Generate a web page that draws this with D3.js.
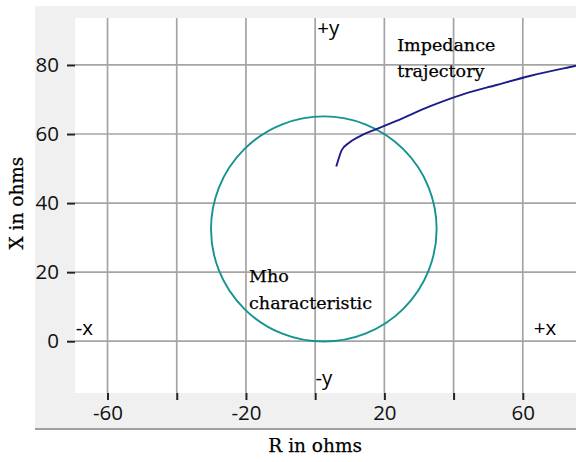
<!DOCTYPE html>
<html>
<head>
<meta charset="utf-8">
<script src="https://cdn.jsdelivr.net/npm/d3@7"></script>
<style>
  body { margin: 0; background: #fff; }
  svg { display: block; }
</style>
</head>
<body>
<svg id="chart" width="576" height="462"></svg>
<script>
// data
var xTicks = [-60, -40, -20, 0, 20, 40, 60];
var xTickLabels = ["-60", "", "-20", "", "20", "", "60"];
var yTicks = [0, 20, 40, 60, 80];
var yTickLabels = ["0", "20", "40", "60", "80"];

// mho circle: centre (R, X) and radius in ohms
var mhoCenter = [2.5, 32.5];
var mhoRadius = 32.6;

// impedance trajectory points, R and X in ohms
var trajR = [6.1, 7.0, 7.6, 10.0, 13.8, 17.7, 23.5, 33.1, 42.7, 52.4, 62.0, 75.0, 82.0];
var trajX = [50.6, 53.5, 55.2, 57.6, 59.8, 61.4, 63.8, 68.0, 71.5, 74.2, 76.8, 79.7, 81.2];

var quadLabels = [
  {t: "+y", r: 0.6, x: 88.6},
  {t: "-y", r: 0.1, x: -12.8},
  {t: "-x", r: -69.2, x: 1.8},
  {t: "+x", r: 63.2, x: 1.8}
];

var svg = d3.select("#chart");
var plot = {left: 75, top: 18, right: 592, bottom: 393};

var xScale = d3.scaleLinear().domain([-69.4, 80]).range([plot.left, plot.right]);
var yScale = d3.scaleLinear().domain([-15, 93.6]).range([plot.bottom, plot.top]);

var sans = "'Open Sans', 'DejaVu Sans', sans-serif";
var serif = "'DejaVu Serif', serif";

// gray panel
svg.append("rect")
  .attr("x", 35).attr("y", 6)
  .attr("width", 576 - 35).attr("height", 429 - 6)
  .attr("fill", "#f0f0f0");
svg.append("line")
  .attr("x1", 35).attr("x2", 576)
  .attr("y1", 429).attr("y2", 429)
  .attr("stroke", "#a0a0a0").attr("stroke-width", 2);

// white plot area
svg.append("rect")
  .attr("x", plot.left).attr("y", plot.top)
  .attr("width", plot.right - plot.left).attr("height", plot.bottom - plot.top)
  .attr("fill", "#fff");

svg.append("clipPath").attr("id", "clip")
  .append("rect")
  .attr("x", plot.left).attr("y", plot.top)
  .attr("width", plot.right - plot.left).attr("height", plot.bottom - plot.top);

var g = svg.append("g").attr("clip-path", "url(#clip)");

// grid
g.selectAll("line.vgrid")
  .data(xTicks).enter().append("line")
  .attr("class", "vgrid")
  .attr("x1", d => xScale(d)).attr("x2", d => xScale(d))
  .attr("y1", plot.top).attr("y2", plot.bottom)
  .attr("stroke", "#a4a4a4").attr("stroke-width", 1.7);

g.selectAll("line.hgrid")
  .data(yTicks).enter().append("line")
  .attr("class", "hgrid")
  .attr("y1", d => yScale(d)).attr("y2", d => yScale(d))
  .attr("x1", plot.left).attr("x2", plot.right)
  .attr("stroke", "#a4a4a4").attr("stroke-width", 1.7);

// axes
var xAxis = d3.axisBottom(xScale)
  .tickValues(xTicks)
  .tickSize(7)
  .tickPadding(5)
  .tickFormat((d, i) => xTickLabels[i]);
var xg = svg.append("g")
  .attr("transform", "translate(0," + plot.bottom + ")")
  .call(xAxis);
xg.select(".domain").remove();

var yAxis = d3.axisLeft(yScale)
  .tickValues(yTicks)
  .tickSize(8)
  .tickPadding(8)
  .tickFormat((d, i) => yTickLabels[i]);
var yg = svg.append("g")
  .attr("transform", "translate(" + plot.left + ",0)")
  .call(yAxis);
yg.select(".domain").remove();

[xg, yg].forEach(function(a) {
  a.selectAll(".tick line").attr("stroke", "#222").attr("stroke-width", 2);
  a.selectAll(".tick text")
    .attr("fill", "#111")
    .style("font-family", sans)
    .style("font-size", "20.5px");
});

// mho circle
g.append("ellipse")
  .attr("cx", xScale(mhoCenter[0]))
  .attr("cy", yScale(mhoCenter[1]))
  .attr("rx", xScale(mhoCenter[0] + mhoRadius) - xScale(mhoCenter[0]))
  .attr("ry", yScale(mhoCenter[1]) - yScale(mhoCenter[1] + mhoRadius))
  .attr("fill", "none")
  .attr("stroke", "#15948f")
  .attr("stroke-width", 1.9);

// impedance trajectory
var traj = trajR.map((r, i) => [r, trajX[i]]);
g.append("path")
  .datum(traj)
  .attr("d", d3.line().x(d => xScale(d[0])).y(d => yScale(d[1])).curve(d3.curveMonotoneX))
  .attr("fill", "none")
  .attr("stroke", "#1c1c8a")
  .attr("stroke-width", 1.9);

// quadrant labels
svg.selectAll("text.quad")
  .data(quadLabels).enter().append("text")
  .attr("class", "quad")
  .attr("x", d => xScale(d.r))
  .attr("y", d => yScale(d.x))
  .style("font-family", sans)
  .style("font-size", "20.5px")
  .attr("fill", "#000")
  .text(d => d.t);

// annotations
function note(lines, r, x) {
  var t = svg.append("text")
    .attr("x", xScale(r))
    .attr("y", yScale(x))
    .style("font-family", serif)
    .style("font-size", "17.5px")
    .attr("fill", "#000")
    .attr("stroke", "#000")
    .attr("stroke-width", 0.25);
  lines.forEach(function(s, i) {
    t.append("tspan")
      .attr("x", xScale(r))
      .attr("dy", i === 0 ? 0 : 26.5)
      .text(s);
  });
}
note(["Impedance", "trajectory"], 23.7, 84.1);
note(["Mho", "characteristic"], -19.1, 17.1);

// axis titles
svg.append("text")
  .attr("x", xScale(0))
  .attr("y", 452)
  .attr("text-anchor", "middle")
  .style("font-family", serif)
  .style("font-size", "18.5px")
  .attr("fill", "#000")
  .attr("stroke", "#000")
  .attr("stroke-width", 0.25)
  .text("R in ohms");

svg.append("text")
  .attr("transform", "translate(23," + yScale(40) + ") rotate(-90)")
  .attr("text-anchor", "middle")
  .style("font-family", serif)
  .style("font-size", "18.5px")
  .attr("fill", "#000")
  .attr("stroke", "#000")
  .attr("stroke-width", 0.25)
  .text("X in ohms");
</script>
</body>
</html>
